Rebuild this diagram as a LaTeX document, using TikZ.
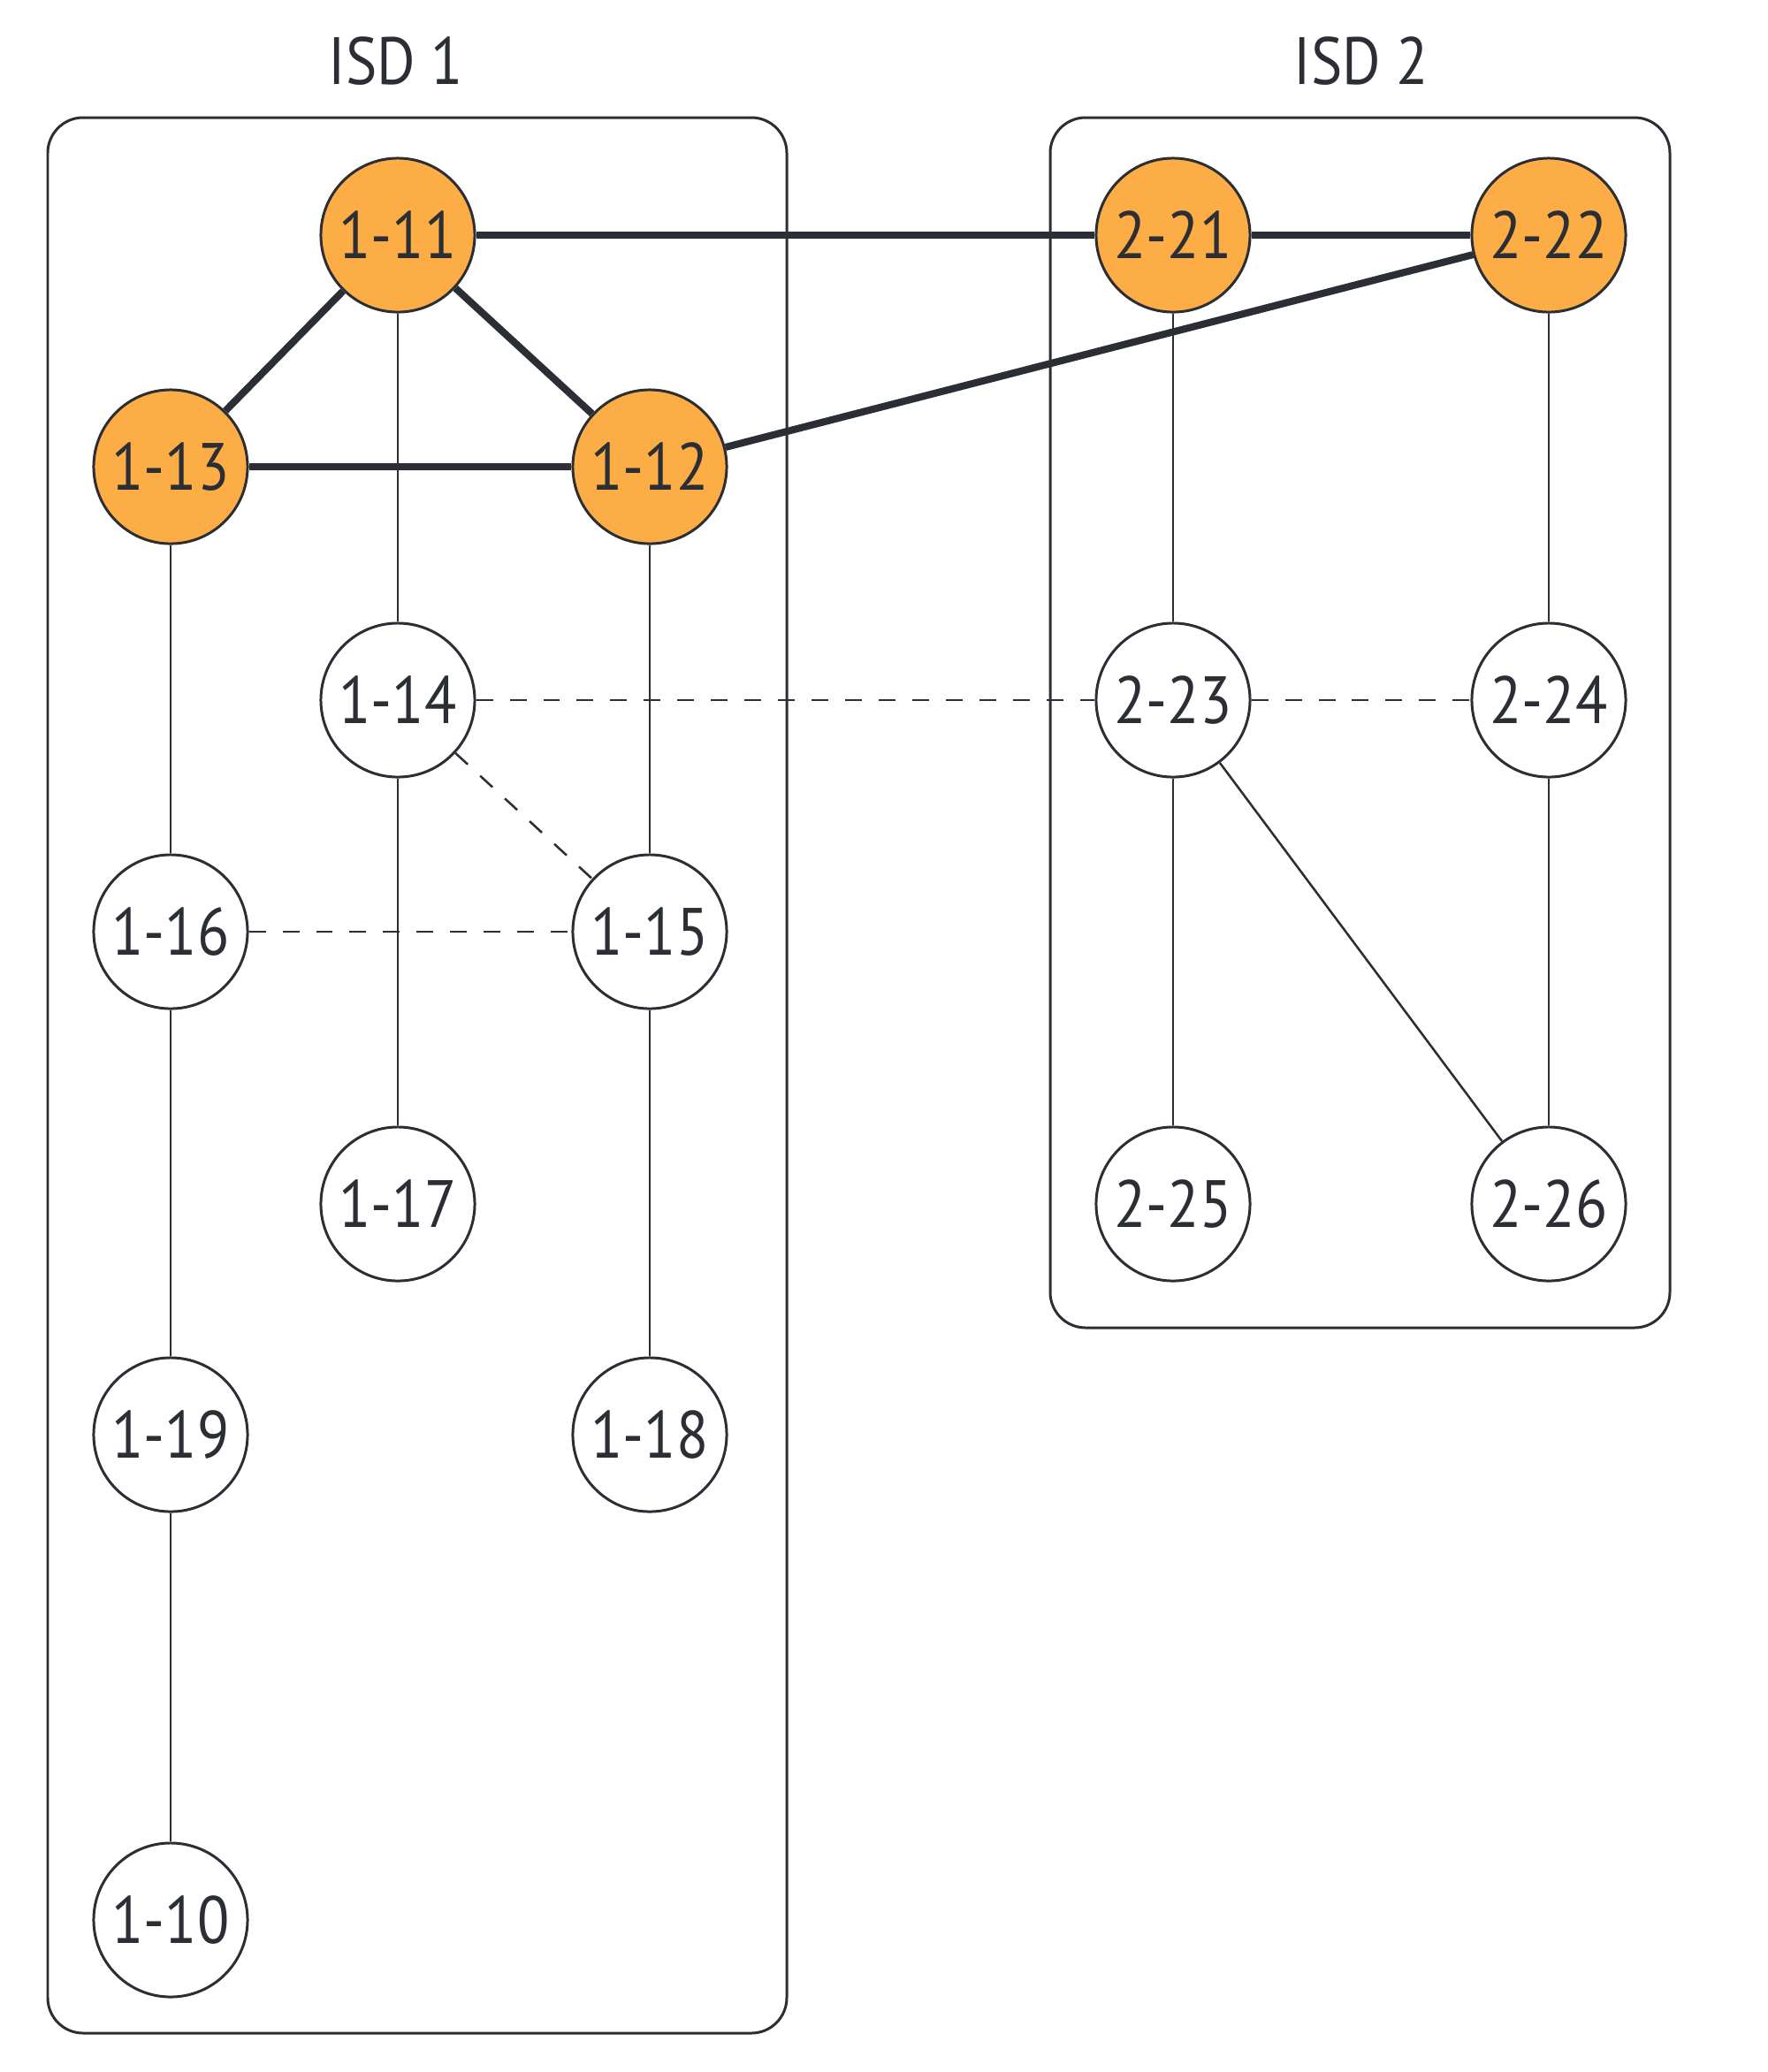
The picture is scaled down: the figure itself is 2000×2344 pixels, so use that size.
\documentclass[tikz,border=0pt]{standalone}
\usepackage{fontspec}
\setmainfont{PT Sans}[FakeStretch=0.88]
\definecolor{ink}{HTML}{2B2E34}
\definecolor{core}{HTML}{FCAD46}
\begin{document}
\begin{tikzpicture}[x=0.01cm,y=-0.01cm,
  as/.style={circle,draw=ink,line width=0.85pt,fill=white,minimum size=1.74cm,inner sep=0pt,text=ink,font=\fontsize{21.5}{24}\selectfont},
  coreas/.style={as,fill=core},
  isdbox/.style={draw=ink,line width=0.85pt,rounded corners=0.4cm},
  isdlabel/.style={anchor=base,text=ink,inner sep=0pt,font=\fontsize{21.5}{24}\selectfont},
  corelink/.style={draw=ink,line width=2.3pt},
  parent/.style={draw=ink,line width=0.72pt},
  peer/.style={draw=ink,line width=0.72pt,dash pattern=on 5.4pt off 5.4pt}]
\useasboundingbox (0,0) rectangle (2000,2344);
% ISD boxes
\draw[isdbox] (54,133) rectangle (890,2300);
\draw[isdbox] (1188,133) rectangle (1889,1502);
\node[isdlabel] (isd1) at (448,95) {ISD 1};
\node[isdlabel] (isd2) at (1540,95) {ISD 2};
% nodes
\node[coreas] (n111) at (450,266) {1-11};
\node[coreas] (n113) at (193,528) {1-13};
\node[coreas] (n112) at (735,528) {1-12};
\node[coreas] (n221) at (1327,266) {2-21};
\node[coreas] (n222) at (1752,266) {2-22};
\node[as] (n114) at (450,792) {1-14};
\node[as] (n223) at (1327,792) {2-23};
\node[as] (n224) at (1752,792) {2-24};
\node[as] (n116) at (193,1054) {1-16};
\node[as] (n115) at (735,1054) {1-15};
\node[as] (n117) at (450,1362) {1-17};
\node[as] (n225) at (1327,1362) {2-25};
\node[as] (n226) at (1752,1362) {2-26};
\node[as] (n119) at (193,1623) {1-19};
\node[as] (n118) at (735,1623) {1-18};
\node[as] (n110) at (193,2172) {1-10};
% parent-child links
\path[parent] (n111) -- (n114);
\path[parent] (n114) -- (n117);
\path[parent] (n113) -- (n116);
\path[parent] (n116) -- (n119);
\path[parent] (n119) -- (n110);
\path[parent] (n112) -- (n115);
\path[parent] (n115) -- (n118);
\path[parent] (n221) -- (n223);
\path[parent] (n222) -- (n224);
\path[parent] (n223) -- (n225);
\path[parent] (n224) -- (n226);
\path[parent] (n223) -- (n226);
% peering links
\path[peer] (n114) -- (n223);
\path[peer] (n223) -- (n224);
\path[peer] (n114) -- (n115);
\path[peer] (n116) -- (n115);
% core links
\path[corelink] (n111) -- (n221);
\path[corelink] (n221) -- (n222);
\path[corelink] (n111) -- (n113);
\path[corelink] (n111) -- (n112);
\path[corelink] (n113) -- (n112);
\path[corelink] (n112) -- (n222);
\end{tikzpicture}
\end{document}
